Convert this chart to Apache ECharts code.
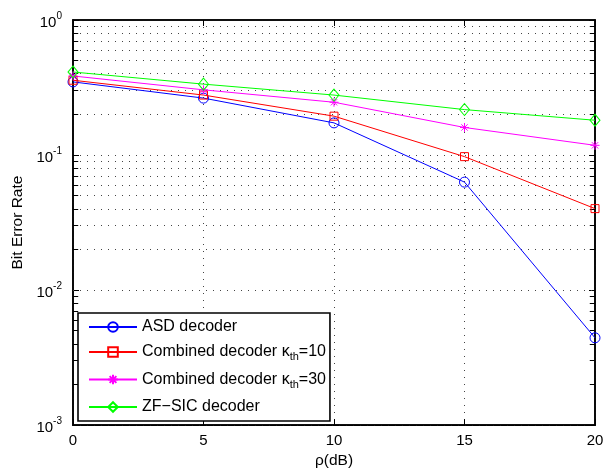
<!DOCTYPE html>
<html>
<head>
<meta charset="utf-8">
<script src="https://cdn.jsdelivr.net/npm/echarts@6/dist/echarts.min.js"></script>
<style>html,body{margin:0;padding:0;background:#fff}#c{width:615px;height:474px}</style>
</head>
<body>
<div id="c"></div>
<script>
const snr = [0, 5, 10, 15, 20];
const asd = [0.348, 0.264, 0.173, 0.063, 0.00443];
const comb10 = [0.358, 0.278, 0.194, 0.0973, 0.0401];
const comb30 = [0.385, 0.304, 0.246, 0.160, 0.118];
const zfsic = [0.412, 0.335, 0.278, 0.217, 0.181];
const seriesNames = ['ASD decoder', 'Combined decoder κth=10', 'Combined decoder κth=30', 'ZF\u2212SIC decoder'];
const xTicks = [0, 5, 10, 15, 20];
const minorMult = [2, 3, 4, 5, 6, 7, 8, 9];
const decades = [-3, -2, -1];

const FONT = 'Liberation Sans, Arial, Helvetica, sans-serif';
const minorVals = [];
decades.forEach(d => minorMult.forEach(m => minorVals.push(m * Math.pow(10, d))));

const gridLine = () => ({ color: '#444', width: 1, type: [1, 6] });
const minorLines = minorVals.map(v => ({ yAxis: v, lineStyle: gridLine() }));
const tickLen = 0.2;
const minorTicks = [];
minorVals.forEach(v => {
  minorTicks.push([{ coord: [xTicks[0], v], lineStyle: { color: '#000', width: 1, type: 'solid' } }, { coord: [xTicks[0] + tickLen, v] }]);
  minorTicks.push([{ coord: [xTicks[xTicks.length - 1] - tickLen, v], lineStyle: { color: '#000', width: 1, type: 'solid' } }, { coord: [xTicks[xTicks.length - 1], v] }]);
});

function pts(arr) { return snr.map((x, i) => [x, arr[i]]); }

const star = 'path://M0,5L10,5M5,0L5,10M1.5,1.5L8.5,8.5M1.5,8.5L8.5,1.5';

function mk(name, data, color, symbol, size, extra) {
  return Object.assign({
    name, type: 'line', data: pts(data), symbol, symbolSize: size,
    lineStyle: { color, width: 1 },
    itemStyle: { color: 'rgba(0,0,0,0)', borderColor: color, borderWidth: 1 },
    emphasis: { disabled: true }, z: 5
  }, extra || {});
}

function axLine() { return { show: true, onZero: false, lineStyle: { color: '#000', width: 1.6 } }; }
function axTick() { return { show: true, inside: true, length: 6, lineStyle: { color: '#000', width: 1 } }; }

const option = {
  animation: false,
  backgroundColor: '#fff',
  textStyle: { fontFamily: FONT },
  grid: { left: 73, right: 20, top: 20, bottom: 44, show: true, borderColor: '#000', borderWidth: 1.6, backgroundColor: 'rgba(0,0,0,0)' },
  xAxis: [
    {
      type: 'value', min: 0, max: 20, interval: 5, position: 'bottom',
      name: 'ρ(dB)', nameLocation: 'middle', nameGap: 21,
      nameTextStyle: { color: '#000', fontSize: 15.5, fontFamily: FONT },
      axisLine: axLine(), axisTick: axTick(),
      axisLabel: { color: '#000', fontSize: 15, margin: 8, fontFamily: FONT },
      splitLine: { show: true, lineStyle: gridLine() }
    },
    {
      type: 'value', min: 0, max: 20, interval: 5, position: 'top',
      axisLine: axLine(), axisTick: axTick(),
      axisLabel: { show: false }, splitLine: { show: false }
    }
  ],
  yAxis: [
    {
      type: 'log', logBase: 10, min: 0.001, max: 1, position: 'left',
      name: 'Bit Error Rate', nameLocation: 'middle', nameGap: 44,
      nameTextStyle: { color: '#000', fontSize: 15.5, fontFamily: FONT },
      axisLine: axLine(), axisTick: axTick(),
      axisLabel: {
        color: '#000', margin: 11, fontFamily: FONT,
        formatter: v => '{b|10}{s|' + String(Math.round(Math.log10(v))) + '}',
        rich: {
          b: { fontSize: 15, fontFamily: FONT, color: '#000', padding: [5, 0, 0, 0] },
          s: { fontSize: 10, fontFamily: FONT, color: '#000', padding: [0, 0, 8, 0] }
        }
      },
      splitLine: { show: true, lineStyle: gridLine() }
    },
    {
      type: 'log', logBase: 10, min: 0.001, max: 1, position: 'right',
      axisLine: axLine(), axisTick: axTick(),
      axisLabel: { show: false }, splitLine: { show: false }
    }
  ],
  legend: {
    orient: 'vertical', left: 78, top: 313,
    data: seriesNames,
    backgroundColor: '#fff', borderColor: '#000', borderWidth: 1.6,
    padding: [6, 4, 6, 10], itemGap: 9, itemWidth: 48, itemHeight: 12,
    selectedMode: false,
    textStyle: { color: '#000', fontSize: 16, fontFamily: FONT,
      rich: {
        n: { fontSize: 16, fontFamily: FONT, color: '#000' },
        sub: { fontSize: 11, fontFamily: FONT, color: '#000', padding: [10, 0, 0, 0] }
      }
    },
    formatter: name => {
      const m = name.match(/^(.*κ)th(=.*)$/);
      if (m) return '{n|' + m[1] + '}{sub|th}{n|' + m[2] + '}';
      return '{n|' + name + '}';
    }
  },
  series: [
    mk(seriesNames[0], asd, '#0000ff', 'circle', 10, {
      z: 3,
      markLine: {
        silent: true, symbol: ['none', 'none'], label: { show: false },
        animation: false, z: 1,
        data: minorLines.concat(minorTicks)
      }
    }),
    mk(seriesNames[1], comb10, '#ff0000', 'rect', 8),
    mk(seriesNames[2], comb30, '#ff00ff', star, 9),
    mk(seriesNames[3], zfsic, '#00ff00', 'diamond', [10, 12])
  ]
};

const chart = echarts.init(document.getElementById('c'), null, { renderer: 'canvas' });
chart.setOption(option);
</script>
</body>
</html>
